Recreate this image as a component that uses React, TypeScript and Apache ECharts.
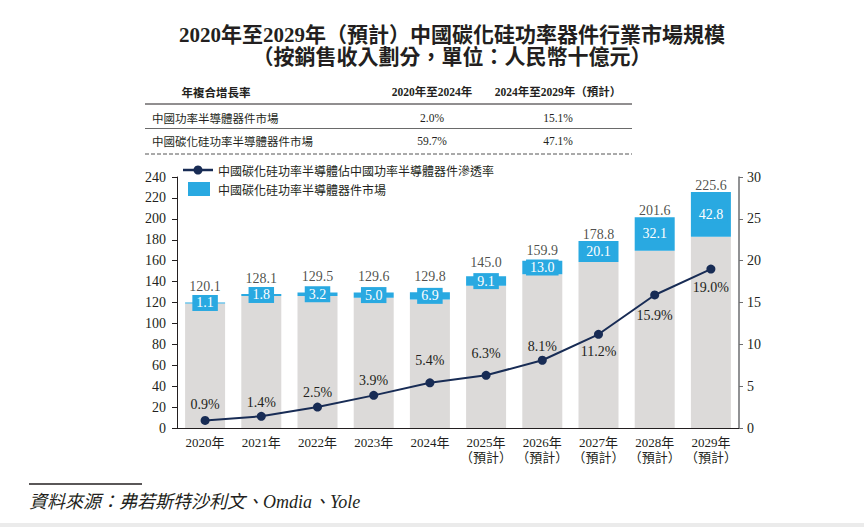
import React, { useEffect, useRef } from "react";
import * as echarts from "echarts";

// 市場規模（人民幣十億元）與滲透率
const categories = [
  "2020年", "2021年", "2022年", "2023年", "2024年",
  "2025年\n（預計）", "2026年\n（預計）", "2027年\n（預計）", "2028年\n（預計）", "2029年\n（預計）",
];
const powerMarketTotal = [120.1, 128.1, 129.5, 129.6, 129.8, 145.0, 159.9, 178.8, 201.6, 225.6];
const sicMarket = [1.1, 1.8, 3.2, 5.0, 6.9, 9.1, 13.0, 20.1, 32.1, 42.8];
const sicPenetration = [0.9, 1.4, 2.5, 3.9, 5.4, 6.3, 8.1, 11.2, 15.9, 19.0];

const leftTicks = { min: 0, max: 240, interval: 20 };
const rightTicks = { min: 0, max: 30, interval: 5 };

// 年複合增長率表
const cagrHeader = ["年複合增長率", "2020年至2024年", "2024年至2029年（預計）"];
const cagrRows = [
  ["中國功率半導體器件市場", "2.0%", "15.1%"],
  ["中國碳化硅功率半導體器件市場", "59.7%", "47.1%"],
];

const titleLines = [
  "2020年至2029年（預計）中國碳化硅功率器件行業市場規模",
  "（按銷售收入劃分，單位：人民幣十億元）",
];
const legendNames = [
  "中國碳化硅功率半導體佔中國功率半導體器件滲透率",
  "中國碳化硅功率半導體器件市場",
];
const sourceText = "資料來源：弗若斯特沙利文、Omdia、Yole";

const SERIF = "'Liberation Serif', 'Noto Sans CJK TC', serif";
const SANS = "'Noto Sans CJK TC', 'Noto Sans', sans-serif";
const INK = "#231f20";
const GREY = "#dcdad9";
const BLUE = "#29a9e1";
const NAVY = "#182c55";

const GRID = { left: 177, right: 125, top: 177, bottom: 99 };
const PX_PER_UNIT = (527 - GRID.top - GRID.bottom) / leftTicks.max;

// gap between each penetration point and its label
const lineLabelGap = [4, 2, 3, 3, 11, 10, 2, 6, 9, 7];

export default function App() {
  const ref = useRef<HTMLDivElement>(null);

  useEffect(() => {
    if (!ref.current) return;
    const chart = echarts.init(ref.current, null, { renderer: "svg" });

    const col = [160, 432, 558];
    const tableLeft = 145;
    const tableRight = 632;
    const rowY = [92, 118, 141];

    const tableGraphics: any[] = [];
    cagrHeader.forEach((t, i) => {
      tableGraphics.push({
        type: "text",
        x: i === 0 ? 216 : col[i],
        y: rowY[0],
        style: {
          text: t,
          font: `bold 11.5px ${i === 0 ? SANS : SERIF}`,
          fill: INK,
          textAlign: "center",
          textVerticalAlign: "middle",
        },
      });
    });
    cagrRows.forEach((row, r) => {
      row.forEach((t, i) => {
        tableGraphics.push({
          type: "text",
          x: i === 0 ? 152 : col[i],
          y: rowY[r + 1],
          style: {
            text: t,
            font: `11.5px ${i === 0 ? SANS : SERIF}`,
            fill: INK,
            textAlign: i === 0 ? "left" : "center",
            textVerticalAlign: "middle",
          },
        });
      });
    });
    tableGraphics.push(
      { type: "line", shape: { x1: tableLeft, y1: 104, x2: tableRight, y2: 104 }, style: { stroke: INK, lineWidth: 1 } },
      { type: "line", shape: { x1: tableLeft, y1: 128.5, x2: tableRight, y2: 128.5 }, style: { stroke: "#444", lineWidth: 0.8 } },
      { type: "line", shape: { x1: tableLeft, y1: 154, x2: tableRight, y2: 154 }, style: { stroke: "#555", lineWidth: 1, lineDash: [4, 2] } }
    );

    const legendGraphics = [
      { type: "line", shape: { x1: 183, y1: 170, x2: 213, y2: 170 }, style: { stroke: NAVY, lineWidth: 2.5 } },
      { type: "circle", shape: { cx: 198, cy: 170, r: 4.5 }, style: { fill: NAVY } },
      { type: "text", x: 218, y: 170, style: { text: legendNames[0], font: `12px ${SANS}`, fill: INK, textVerticalAlign: "middle" } },
      { type: "rect", shape: { x: 188, y: 182, width: 22, height: 14 }, style: { fill: BLUE } },
      { type: "text", x: 218, y: 189, style: { text: legendNames[1], font: `12px ${SANS}`, fill: INK, textVerticalAlign: "middle" } },
    ];

    const titleGraphics = titleLines.map((t, i) => ({
      type: "text",
      x: 452,
      y: i === 0 ? 35 : 57,
      style: {
        text: t,
        font: `bold 21px ${SERIF}`,
        fill: INK,
        textAlign: "center",
        textVerticalAlign: "middle",
      },
    }));

    const footGraphics = [
      { type: "line", shape: { x1: 29, y1: 484, x2: 142, y2: 484 }, style: { stroke: INK, lineWidth: 1.5 } },
      { type: "text", x: 29, y: 502, style: { text: sourceText, font: `italic 18px ${SERIF}`, fill: INK, textVerticalAlign: "middle" } },
      { type: "rect", shape: { x: 0, y: 523, width: 864, height: 4 }, style: { fill: "#ebebeb" } },
    ];

    const base = powerMarketTotal.map((t, i) => +(t - sicMarket[i]).toFixed(1));

    chart.setOption({
      animation: false,
      backgroundColor: "#ffffff",
      grid: { ...GRID, containLabel: false },
      xAxis: {
        type: "category",
        data: categories,
        axisLine: { lineStyle: { color: INK, width: 1 } },
        axisTick: { show: false },
        axisLabel: { fontFamily: SERIF, fontSize: 13, color: INK, lineHeight: 15, margin: 7, interval: 0 },
      },
      yAxis: [
        {
          type: "value",
          ...leftTicks,
          axisLine: { show: true, lineStyle: { color: INK, width: 1 } },
          axisTick: { show: true, length: 5, lineStyle: { color: INK } },
          splitLine: { show: false },
          axisLabel: { fontFamily: SERIF, fontSize: 14, color: INK, margin: 11 },
        },
        {
          type: "value",
          position: "right",
          ...rightTicks,
          axisLine: { show: true, lineStyle: { color: "#6d6e71", width: 1.5 } },
          axisTick: { show: true, length: 4, lineStyle: { color: "#6d6e71" } },
          splitLine: { show: false },
          axisLabel: { fontFamily: SERIF, fontSize: 14, color: INK, margin: 8 },
        },
      ],
      series: [
        {
          name: "base",
          type: "bar",
          stack: "market",
          barWidth: 40,
          data: base,
          itemStyle: { color: GREY },
          silent: true,
        },
        {
          name: legendNames[1],
          type: "bar",
          stack: "market",
          barWidth: 40,
          data: sicMarket,
          itemStyle: { color: BLUE },
          label: {
            show: true,
            position: "inside",
            formatter: (p: any) => p.value.toFixed(1),
            fontFamily: SERIF,
            fontSize: 14,
            color: "#ffffff",
            backgroundColor: BLUE,
            padding: [1, 4],
            lineHeight: 14,
          },
          z: 3,
        },
        {
          name: "total",
          type: "scatter",
          symbolSize: 0,
          data: powerMarketTotal.map((v, i) => {
            const seg = sicMarket[i] * PX_PER_UNIT;
            return {
              value: v,
              label: { distance: seg < 8 ? 9 : seg < 12 ? 7 : seg < 16 ? 3 : 0 },
            };
          }),
          label: {
            show: true,
            position: "top",
            formatter: (p: any) => p.value.toFixed(1),
            fontFamily: SERIF,
            fontSize: 14,
            color: INK,
          },
          z: 4,
        },
        {
          name: legendNames[0],
          type: "line",
          yAxisIndex: 1,
          data: sicPenetration.map((v, i) => ({
            value: v,
            label: { position: i < 7 ? "top" : "bottom", distance: lineLabelGap[i] },
          })),
          symbol: "circle",
          symbolSize: 9,
          lineStyle: { color: NAVY, width: 2 },
          itemStyle: { color: NAVY },
          label: {
            show: true,
            formatter: (p: any) => p.value.toFixed(1) + "%",
            fontFamily: SERIF,
            fontSize: 14,
            color: INK,
          },
          z: 5,
        },
      ],
      graphic: [...titleGraphics, ...tableGraphics, ...legendGraphics, ...footGraphics],
    });

    return () => chart.dispose();
  }, []);

  return (
    <div
      ref={ref}
      style={{ position: "fixed", left: 0, top: 0, width: 864, height: 527 }}
    />
  );
}
